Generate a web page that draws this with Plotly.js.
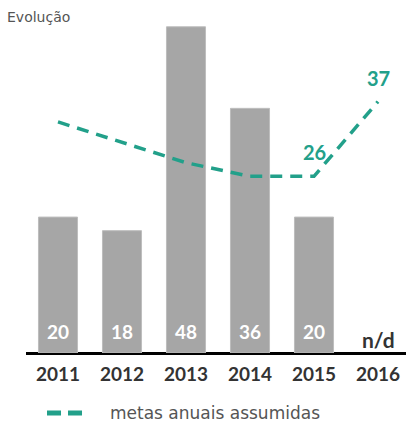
<!DOCTYPE html>
<html>
<head>
<meta charset="utf-8">
<script src="https://cdn.plot.ly/plotly-3.0.1.min.js"></script>
<style>html,body{margin:0;padding:0;background:#fff;}#chart{width:406px;height:423px;}</style>
</head>
<body>
<div id="chart"></div>
<script>
const years = ['2011','2012','2013','2014','2015','2016'];
const barYears = ['2011','2012','2013','2014','2015'];
const barValues = [20, 18, 48, 36, 20];
const metaValues = [34, 31, 28, 26, 26, 37];
const metaLabelYears = ['2015','2016'];
const metaLabelValues = [26, 37];
const naYear = '2016';
const naText = 'n/d';
const subtitle = 'Evolução';
const legendName = 'metas anuais assumidas';

const teal = '#22a08a';
const numFont = 'Lato, "Open Sans", sans-serif';
const idx = y => years.indexOf(y);

const bars = {
  type: 'bar', x: barYears, y: barValues,
  marker: {color: '#a6a6a6', line: {color: '#bdbdbd', width: 1}},
  showlegend: false, hoverinfo: 'skip'
};
const line = {
  type: 'scatter', mode: 'lines', x: years, y: metaValues, name: legendName,
  line: {color: teal, width: 3.5, dash: '12px,8px'},
  showlegend: false, hoverinfo: 'skip'
};

const annotations = [];
barYears.forEach((yr, i) => annotations.push({
  x: idx(yr), y: 0, xref: 'x', yref: 'y', text: String(barValues[i]), showarrow: false,
  yshift: 22, font: {family: numFont, size: 19, color: '#ffffff', weight: 'bold'}
}));
metaLabelYears.forEach((yr, i) => annotations.push({
  x: idx(yr), y: metaLabelValues[i], xref: 'x', yref: 'y', text: String(metaLabelValues[i]),
  showarrow: false, yshift: 24, font: {family: numFont, size: 20, color: teal, weight: 'bold'}
}));
annotations.push({
  x: idx(naYear), y: 0, xref: 'x', yref: 'y', text: naText, showarrow: false,
  yshift: 14, font: {family: numFont, size: 21, color: '#333333', weight: 'bold'}
});
annotations.push({
  x: 0, y: 1, xref: 'paper', yref: 'paper', xanchor: 'left', yanchor: 'top', text: subtitle,
  showarrow: false, xshift: -21, yshift: 13, font: {family: 'DejaVu Sans, sans-serif', size: 14, color: '#555555'}
});
// legend (drawn manually for exact spacing)
annotations.push({
  x: 0.2158, y: -0.1802, xref: 'paper', yref: 'paper', xanchor: 'left', yanchor: 'middle',
  text: legendName, showarrow: false,
  font: {family: 'DejaVu Sans, sans-serif', size: 17, color: '#555555'}
});

const layout = {
  width: 406, height: 423,
  margin: {l: 26, r: 0, t: 20, b: 70, autoexpand: false},
  paper_bgcolor: '#ffffff', plot_bgcolor: '#ffffff',
  bargap: 0.39,
  xaxis: {
    type: 'category', categoryorder: 'array', categoryarray: years,
    range: [-0.5, 5.4375], showgrid: false, zeroline: false,
    showline: false, ticks: '', ticklabelstandoff: 8, automargin: false,
    tickfont: {family: numFont, size: 19, color: '#333333', weight: 'bold'}
  },
  yaxis: {
    range: [0, 49], showgrid: false, zeroline: true, zerolinecolor: '#000000', zerolinewidth: 3,
    showticklabels: false, ticks: '', showline: false, automargin: false
  },
  showlegend: false,
  shapes: [{
    type: 'line', xref: 'paper', yref: 'paper', x0: 0.0553, x1: 0.1474, y0: -0.1802, y1: -0.1802,
    line: {color: teal, width: 5, dash: '14px,7px'}
  }],
  annotations: annotations
};

Plotly.newPlot('chart', [bars, line], layout, {displayModeBar: false, staticPlot: true});
</script>
</body>
</html>
